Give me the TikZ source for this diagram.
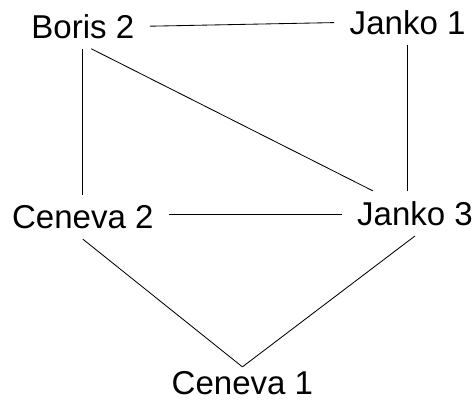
\documentclass[tikz,border=0pt]{standalone}
\usepackage{fontspec}
\setmainfont{Liberation Sans}
\begin{document}
\begin{tikzpicture}[line width=.6pt,
    every node/.style={font=\fontsize{23.5}{28}\selectfont, inner xsep=.38cm, inner ysep=.25cm}]
\useasboundingbox (0,0) rectangle (11.85,10.075);
\node (boris2) at (2.07,9.42){Boris 2};
\node (janko1) at (10.19,9.51){Janko 1};
\node (ceneva2) at (2.07,4.65){Ceneva 2};
\node (janko3) at (10.375,4.74){Janko 3};
\node[inner ysep=.1cm] (ceneva1) at (6.06,.5){Ceneva 1};
\draw (boris2.east)--(janko1.west);
\draw (boris2.south)--(ceneva2.north);
\draw ([xshift=6pt]boris2.south)--([xshift=-30pt]janko3.north);
\draw (janko1.south)--(janko1.south |- janko3.north);
\draw ([yshift=2pt]ceneva2.east)--([yshift=2pt]ceneva2.east -| janko3.west);
\draw (ceneva2.south)--(ceneva1.north);
\draw (janko3.south)--(ceneva1.north);
\end{tikzpicture}
\end{document}
